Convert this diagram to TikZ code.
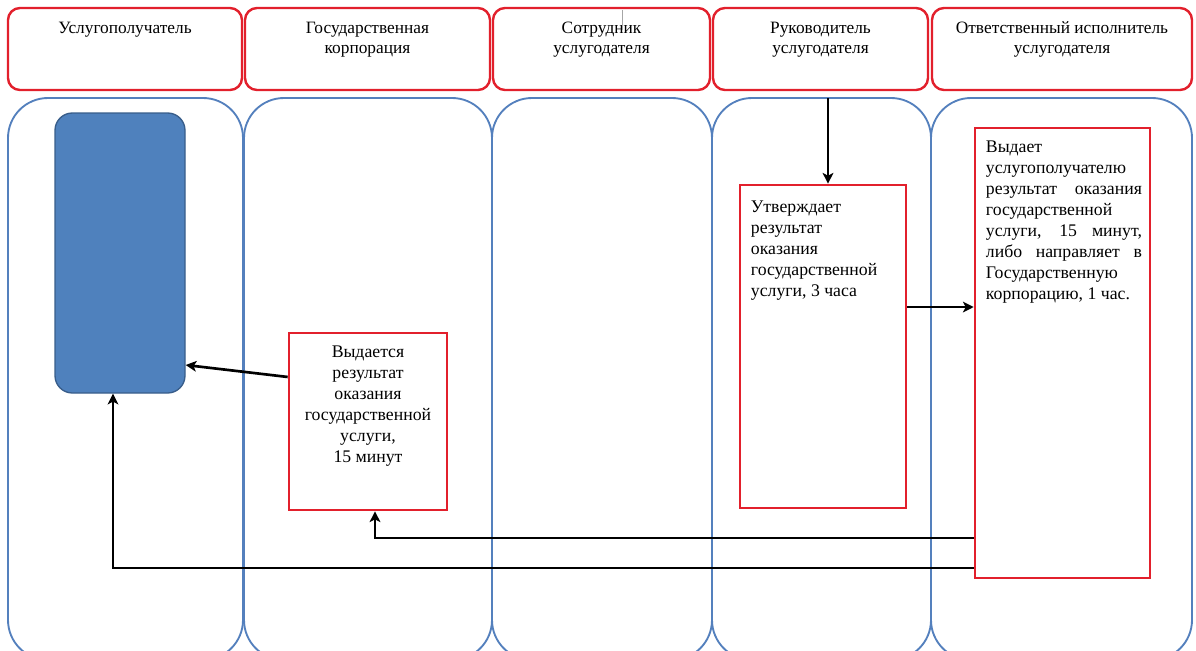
\documentclass[tikz,border=0pt]{standalone}
\usepackage{fontspec}
\setmainfont{Liberation Serif}
\usetikzlibrary{arrows.meta,positioning}
\definecolor{hred}{RGB}{226,32,44}
\definecolor{lblue}{RGB}{84,128,189}
\definecolor{cfill}{RGB}{79,129,189}
\definecolor{cdraw}{RGB}{56,93,138}
\tikzstyle{hbox}=[rectangle,draw=hred,line width=1.8pt,rounded corners=9pt,minimum height=61.5pt]
\tikzstyle{lane}=[rectangle,draw=lblue,line width=1.4pt,rounded corners=30pt,minimum height=421.5pt]
\tikzstyle{act}=[rectangle,draw=hred,line width=2pt]
\tikzstyle{client}=[rectangle,fill=cfill,draw=cdraw,line width=1pt,rounded corners=13pt]
\tikzstyle{htxt}=[inner sep=0pt,align=center,font=\fontsize{13}{15}\selectfont]
\tikzstyle{btxt}=[inner sep=0pt,font=\fontsize{13.3}{15.75}\selectfont]
\tikzstyle{flow}=[-{Stealth[length=8pt,width=8pt,inset=2pt]},line width=2pt]
\newcommand{\jline}[1]{\makebox[117pt][s]{#1}}

\begin{document}
\begin{tikzpicture}[x=0.75pt,y=-0.75pt]
\clip (0,0) rectangle (1196,650);
% headers
\node[hbox,minimum width=175.5pt] (h1) at (125,49) {};
\node[hbox,minimum width=183.75pt] (h2) at (367.5,49) {};
\node[hbox,minimum width=162.75pt] (h3) at (601.5,49) {};
\node[hbox,minimum width=161.25pt] (h4) at (820.5,49) {};
\node[hbox,minimum width=195pt] (h5) at (1062,49) {};
\node[htxt,below=11pt of h1.north] (t1) {Услугополучатель};
\node[htxt,below=11pt of h2.north] (t2) {Государственная\\корпорация};
\node[htxt,below=11pt of h3.north] (t3) {Сотрудник\\услугодателя};
\node[htxt,below=11pt of h4.north] (t4) {Руководитель\\услугодателя};
\node[htxt,below=11pt of h5.north] (t5) {Ответственный исполнитель\\услугодателя};
\draw[gray!70,line width=0.4pt] (622,10) -- (622,30);
% lanes
\node[lane,minimum width=176.25pt] (l1) at (125.5,379) {};
\node[lane,minimum width=186pt] (l2) at (368,379) {};
\node[lane,minimum width=165pt] (l3) at (602,379) {};
\node[lane,minimum width=164.25pt] (l4) at (821.5,379) {};
\node[lane,minimum width=195.75pt] (l5) at (1061.5,379) {};
% steps
\node[client,minimum width=97.5pt,minimum height=210pt] (cl) at (120,253) {};
\node[act,minimum width=118.5pt,minimum height=132.75pt] (b2) at (368,421.5) {};
\node[act,minimum width=124.5pt,minimum height=242.25pt] (b4) at (823,346.5) {};
\node[act,minimum width=131.25pt,minimum height=337.5pt] (b5) at (1062.5,353) {};
\node[btxt,align=center,below=10.5pt of b2.north] (s2) {Выдается\\результат\\оказания\\государственной\\услуги,\\15 минут};
\node[btxt,align=left,below right=12.5pt and 9pt of b4.north west] (s4) {Утверждает\\результат\\оказания\\государственной\\услуги, 3 часа};
\node[btxt,align=left,below right=10.5pt and 9pt of b5.north west] (s5) {Выдает\\услугополучателю\\\jline{результат оказания}\\государственной\\\jline{услуги, 15 минут,}\\\jline{либо направляет в}\\Государственную\\корпорацию, 1 час.};
% flows
\coordinate (in4) at (828,98);
\draw[flow] (in4) -- (in4 |- b4.north);
\draw[flow] ([yshift=29.6pt]b4.east) -- ([yshift=29.6pt]b4.east -| b5.west);
\draw[flow] ([yshift=33.4pt]b2.west) -- ([yshift=-84pt]cl.east);
\draw[flow] ([yshift=-138.75pt]b5.west) -| ([xshift=5.25pt]b2.south);
\draw[flow] ([yshift=-161.25pt]b5.west) -| ([xshift=-5.25pt]cl.south);
\end{tikzpicture}
\end{document}
